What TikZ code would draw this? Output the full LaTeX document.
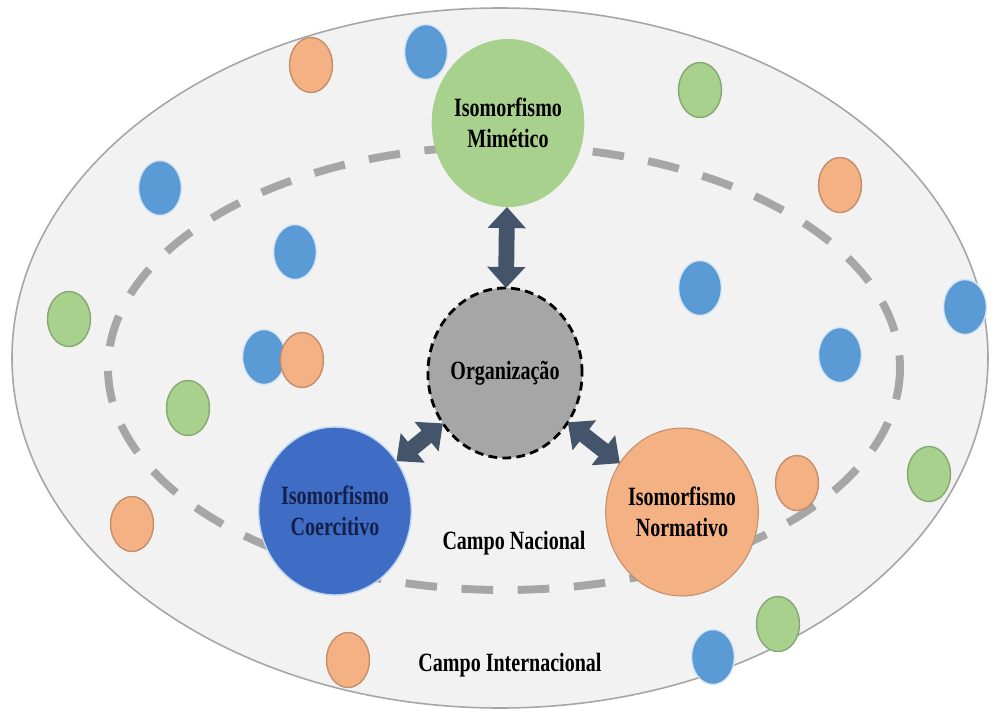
\documentclass[tikz,border=0pt]{standalone}
\usepackage{fontspec}
\newfontfamily\rotulo[FakeStretch=0.76]{Liberation Serif}
\usetikzlibrary{arrows.meta,shapes.geometric}

\definecolor{verde}{HTML}{A9D18E}
\definecolor{azul}{HTML}{5B9BD5}
\definecolor{laranja}{HTML}{F4B183}
\definecolor{azulesc}{HTML}{3F6CC5}
\definecolor{cinza}{HTML}{A6A6A6}
\definecolor{fundo}{HTML}{F2F2F2}
\definecolor{seta}{HTML}{44546A}
\definecolor{textoazul}{HTML}{14204A}

\begin{document}
\begin{tikzpicture}[x=0.02cm,y=-0.02cm,
  font=\rotulo\bfseries\fontsize{15}{18}\selectfont,
  grande/.style={ellipse,minimum width=2.88cm,minimum height=3.36cm,inner sep=0pt,outer sep=0pt,align=center},
  bolinha/.style={ellipse,minimum width=0.86cm,minimum height=1.1cm,inner sep=0pt,line width=0.8pt},
  seta dupla/.style={draw=seta,line width=9pt,{Triangle[width=21pt,length=12pt]}-{Triangle[width=21pt,length=12pt]}}]

\fill[white] (0,0) rectangle (992,711);
\useasboundingbox (0,0) rectangle (992,711);

\draw[fill=fundo,draw=cinza,line width=0.9pt] (500,358) ellipse [x radius=488,y radius=350];
\draw[cinza,line width=4.5pt,dash pattern=on 18pt off 14pt] (504,368) ellipse [x radius=396,y radius=222];

\foreach \px/\py/\cor/\borda [count=\n] in {
  311/65/laranja/laranja!80!black, 426/52/azul/azul!25, 700/90/verde/verde!80!black,
  160/188/azul/azul!25, 840/185/laranja/laranja!80!black, 295/252/azul/azul!25,
  700/288/azul/azul!25, 69/319/verde/verde!80!black, 965/307/azul/azul!25,
  264/357/azul/azul!25, 302/360/laranja/laranja!80!black, 840/355/azul/azul!25,
  188/408/verde/verde!80!black, 797/483/laranja/laranja!80!black, 929/474/verde/verde!80!black,
  132/524/laranja/laranja!80!black, 778/624/verde/verde!80!black, 713/657/azul/azul!25,
  348/660/laranja/laranja!80!black}
  \node[bolinha,fill=\cor,draw=\borda] (b\n) at (\px,\py) {};

\node[grande,fill=verde] (mim) at (508,123) {Isomorfismo\\Mimético};
\node[grande,fill=cinza,draw=black,line width=1.6pt,dash pattern=on 5pt off 3pt,
  minimum width=2.92cm,minimum height=3.4cm] (org) at (505,373) {Organização};
\node[grande,fill=azulesc,draw=azul!40,line width=0.8pt,text=textoazul] (coe) at (335,511) {Isomorfismo\\Coercitivo};
\node[grande,fill=laranja,draw=laranja!80!black,line width=0.6pt] (nor) at (682,512) {Isomorfismo\\Normativo};

\node (nac) at (514,543) {Campo Nacional};
\node (int) at (510,665) {Campo Internacional};

\draw[seta dupla] (mim) -- (org);
\draw[seta dupla] (org) -- (coe);
\draw[seta dupla] (org) -- (nor);

\end{tikzpicture}
\end{document}
